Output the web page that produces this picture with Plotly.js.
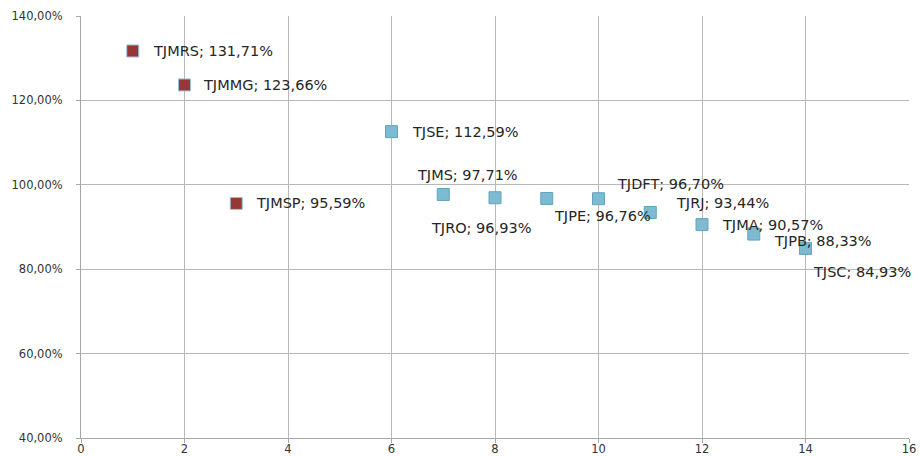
<!DOCTYPE html>
<html>
<head>
<meta charset="utf-8">
<script src="https://cdn.plot.ly/plotly-3.0.1.min.js"></script>
<style>
  html, body { margin: 0; padding: 0; background: #fff; }
  #chart { width: 920px; height: 456px; }
</style>
</head>
<body>
<div id="chart"></div>
<script>
// courts above 100% (red) and the rest (blue)
const redNames = ['TJMRS', 'TJMMG', 'TJMSP'];
const redX = [1, 2, 3];
const redValues = [1.3171, 1.2366, 0.9559];

const blueNames = ['TJSE', 'TJMS', 'TJRO', 'TJPE', 'TJDFT', 'TJRJ', 'TJMA', 'TJPB', 'TJSC'];
const blueX = [6, 7, 8, 9, 10, 11, 12, 13, 14];
const blueValues = [1.1259, 0.9771, 0.9693, 0.9676, 0.9670, 0.9344, 0.9057, 0.8833, 0.8493];

// label placement in pixels [xshift, yshift], same order as the names
const redShift = [[18, 0], [16, 0], [18, 0]];
const blueShift = [[18, 0], [-28, 19], [-66, -30], [5, -18], [16, 15], [24, 9], [18, 0], [18, -7], [5, -24]];

const labelFont = { family: 'DejaVu Sans, sans-serif', size: 14.5, color: '#262626' };
const tickFont = { family: 'DejaVu Sans, sans-serif', size: 11.5, color: '#333333' };

function fmt(v) {
  return (v * 100).toFixed(2).replace('.', ',') + '%';
}

function labels(names, xs, vals, shifts) {
  return names.map((n, i) => ({
    x: xs[i],
    y: vals[i],
    text: n + '; ' + fmt(vals[i]),
    showarrow: false,
    xanchor: 'left',
    yanchor: 'middle',
    xshift: shifts[i][0],
    yshift: shifts[i][1],
    font: labelFont
  }));
}

const red = {
  x: redX,
  y: redValues,
  text: redNames,
  type: 'scatter',
  mode: 'markers',
  hoverinfo: 'text+y',
  marker: {
    symbol: 'square',
    size: 12,
    color: '#953735',
    line: { color: '#9cc3dc', width: 1 }
  }
};

const blue = {
  x: blueX,
  y: blueValues,
  text: blueNames,
  type: 'scatter',
  mode: 'markers',
  hoverinfo: 'text+y',
  marker: {
    symbol: 'square',
    size: 12,
    color: '#7ebbd2',
    line: { color: '#63a3bc', width: 1 }
  }
};

const layout = {
  width: 920,
  height: 456,
  separators: ',.',
  showlegend: false,
  paper_bgcolor: '#ffffff',
  plot_bgcolor: '#ffffff',
  margin: { l: 81, r: 11, t: 16, b: 18 },
  xaxis: {
    range: [0, 16],
    dtick: 2,
    tick0: 0,
    showgrid: true,
    gridcolor: '#b8b8b8',
    gridwidth: 1,
    zeroline: false,
    showline: true,
    linecolor: '#a6a6a6',
    ticks: 'outside',
    ticklen: 4,
    tickcolor: '#a6a6a6',
    ticklabelstandoff: -4,
    tickfont: tickFont
  },
  yaxis: {
    range: [0.4, 1.4],
    dtick: 0.2,
    tick0: 0.4,
    tickformat: '.2%',
    showgrid: true,
    gridcolor: '#b8b8b8',
    gridwidth: 1,
    zeroline: false,
    showline: true,
    linecolor: '#a6a6a6',
    ticks: 'outside',
    ticklen: 4,
    tickcolor: '#a6a6a6',
    ticklabelstandoff: 11,
    tickfont: tickFont
  },
  annotations: labels(redNames, redX, redValues, redShift)
    .concat(labels(blueNames, blueX, blueValues, blueShift))
};

Plotly.newPlot('chart', [red, blue], layout, { displayModeBar: false, staticPlot: true });
</script>
</body>
</html>
